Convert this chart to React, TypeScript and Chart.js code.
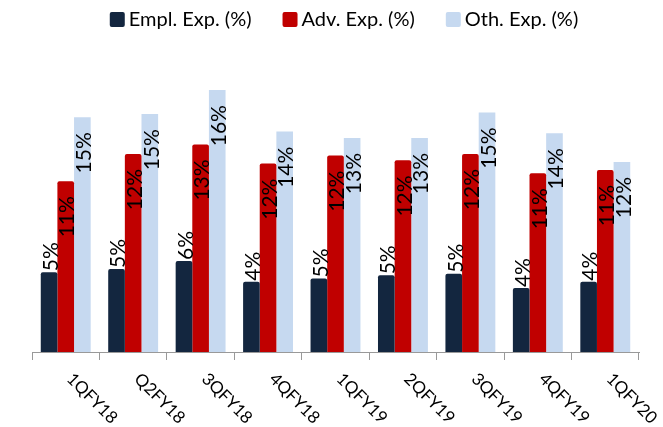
import React, { useEffect, useRef } from "react";
import { Chart, registerables } from "chart.js";

Chart.register(...registerables);

const categories = ["1QFY18", "Q2FY18", "3QFY18", "4QFY18", "1QFY19", "2QFY19", "3QFY19", "4QFY19", "1QFY20"];
const emplExp = [5.0, 5.2, 5.7, 4.4, 4.6, 4.8, 4.9, 4.0, 4.4];
const advExp = [10.7, 12.4, 13.0, 11.8, 12.3, 12.0, 12.4, 11.2, 11.4];
const othExp = [14.7, 14.9, 16.4, 13.8, 13.4, 13.4, 15.0, 13.7, 11.9];
const seriesNames = ["Empl. Exp. (%)", "Adv. Exp. (%)", "Oth. Exp. (%)"];
const seriesColors = ["#13263F", "#C00000", "#C6D9F0"];
const Y_MAX = 19.6;

const FONT = "Lato, 'Liberation Sans', sans-serif";

const labelPlugin = {
  id: "vlabels",
  afterDatasetsDraw(chart: any) {
    const ctx = chart.ctx;
    chart.data.datasets.forEach((ds: any, di: number) => {
      const meta = chart.getDatasetMeta(di);
      meta.data.forEach((bar: any, i: number) => {
        const v = ds.data[i];
        const txt = Math.round(v) + "%";
        ctx.save();
        ctx.translate(bar.x + 2, di === 0 ? bar.y - 1 : bar.y + 15);
        ctx.rotate(-Math.PI / 2);
        ctx.textAlign = di === 0 ? "left" : "right";
        ctx.textBaseline = "middle";
        ctx.font = `21px ${FONT}`;
        ctx.fillStyle = "#000";
        ctx.fillText(txt, 0, 0);
        ctx.restore();
      });
    });
  },
};

const xLabelPlugin = {
  id: "xlabels",
  afterDraw(chart: any) {
    const ctx = chart.ctx;
    const xs = chart.scales.x;
    chart.data.labels.forEach((lab: string, i: number) => {
      const x = xs.getPixelForValue(i);
      ctx.save();
      ctx.translate(x + 4, xs.top + 24);
      ctx.rotate(Math.PI / 4);
      ctx.textAlign = "left";
      ctx.textBaseline = "middle";
      ctx.font = `17px ${FONT}`;
      ctx.fillStyle = "#000";
      ctx.fillText(lab, 0, 0);
      ctx.restore();
    });
  },
};

const legendPlugin = {
  id: "customLegend",
  afterDraw(chart: any) {
    const ctx = chart.ctx;
    const box = 15;
    const gap = 4;
    const itemGap = 31;
    const cy = 19.5;
    ctx.save();
    ctx.font = `20px ${FONT}`;
    ctx.textBaseline = "middle";
    ctx.textAlign = "left";
    const widths = chart.data.datasets.map((d: any) => ctx.measureText(d.label).width);
    const total = widths.reduce((a: number, w: number) => a + box + gap + w, 0) + itemGap * (widths.length - 1);
    let x = 344 - total / 2;
    chart.data.datasets.forEach((d: any, i: number) => {
      ctx.fillStyle = d.backgroundColor;
      ctx.beginPath();
      (ctx as any).roundRect(x, cy - box / 2, box, box, 2);
      ctx.fill();
      ctx.fillStyle = "#000";
      ctx.fillText(d.label, x + box + gap, cy);
      x += box + gap + widths[i] + itemGap;
    });
    ctx.restore();
  },
};

export default function App() {
  const ref = useRef<HTMLCanvasElement>(null);
  useEffect(() => {
    if (!ref.current) return;
    const topRound = { topLeft: 2, topRight: 2, bottomLeft: 0, bottomRight: 0 };
    const chart = new Chart(ref.current, {
      type: "bar",
      data: {
        labels: categories,
        datasets: [
          { label: seriesNames[0], data: emplExp, backgroundColor: seriesColors[0], borderWidth: 0, borderRadius: topRound, borderSkipped: false },
          { label: seriesNames[1], data: advExp, backgroundColor: seriesColors[1], borderWidth: 0, borderRadius: topRound, borderSkipped: false },
          { label: seriesNames[2], data: othExp, backgroundColor: seriesColors[2], borderWidth: 0 },
        ],
      },
      options: {
        responsive: false,
        animation: false,
        devicePixelRatio: 1,
        layout: { padding: { top: 39, left: 32, right: 24, bottom: 67 } },
        datasets: { bar: { categoryPercentage: 0.74, barPercentage: 1 } },
        plugins: {
          legend: { display: false },
          tooltip: { enabled: false },
        },
        scales: {
          x: {
            grid: {
              display: true,
              drawOnChartArea: false,
              drawTicks: true,
              tickLength: 8,
              color: "#999",
              offset: true,
            },
            border: { display: true, color: "#999", width: 1 },
            ticks: { display: false },
          },
          y: { display: false, min: 0, max: Y_MAX },
        },
      },
      plugins: [labelPlugin, xLabelPlugin, legendPlugin],
    });
    return () => chart.destroy();
  }, []);
  return (
    <div style={{ position: "absolute", left: 0, top: 0, width: 663, height: 427 }}>
      <canvas ref={ref} width={663} height={427} />
    </div>
  );
}
